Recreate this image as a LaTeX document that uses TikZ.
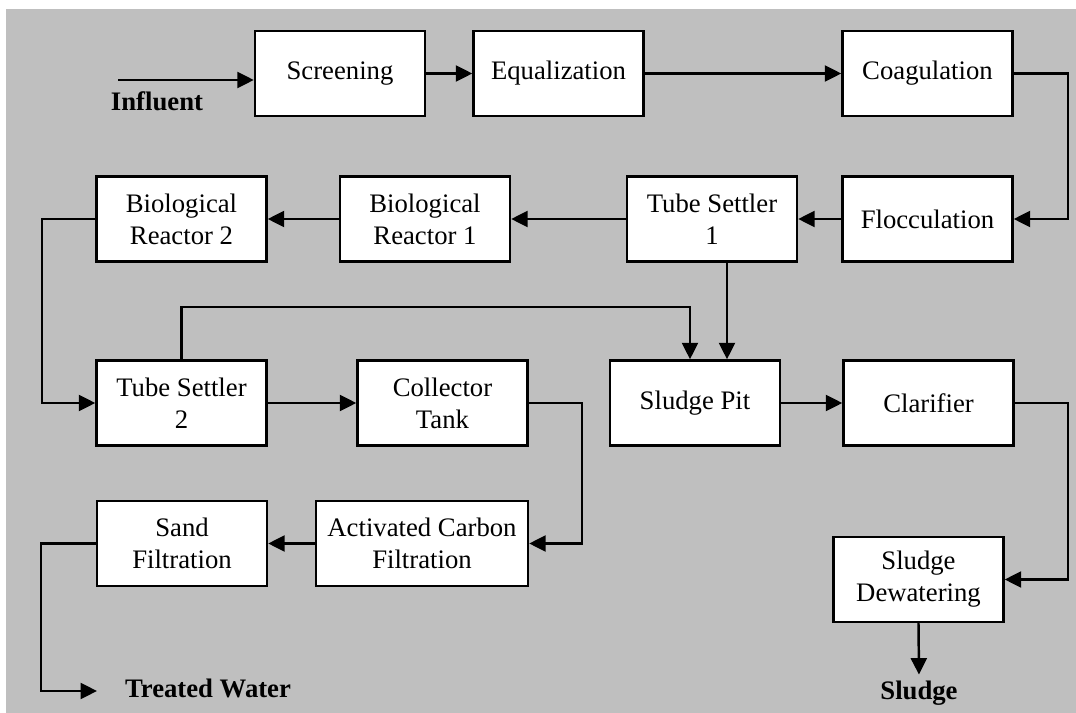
\documentclass[tikz,border=0pt]{standalone}
\usepackage{fontspec}
\setmainfont{Liberation Serif}
\usetikzlibrary{arrows.meta,positioning,calc}
\definecolor{panelgray}{RGB}{191,191,191}

\begin{document}
\begin{tikzpicture}[x=0.02cm, y=-0.02cm,
    box/.style={draw, rectangle, fill=white, line width=1.4pt, minimum width=3.4cm, minimum height=1.7cm, align=center, font=\fontsize{15.2}{18.2}\selectfont},
    lbl/.style={font=\fontsize{15.2}{18.2}\selectfont\bfseries},
    arrow/.style={-{Triangle[length=0.33cm,width=0.32cm]}, line width=1.4pt}
]
% Background
\useasboundingbox (0,0) rectangle (1076,713);
\fill[panelgray] (6,9) rectangle (1076,713);

% Top row
\node[box] (screen) at (340,73.5) {Screening};
\node[box] (equal) at (558.5,73.5) {Equalization};
\node[box] (coag) at (927.5,73.5) {Coagulation};

% Second row
\node[box] (floc) at (927.5,219) {Flocculation};
\node[box] (ts1) at (712,219) {Tube Settler\\1};
\node[box] (br1) at (425,219) {Biological\\Reactor 1};
\node[box] (br2) at (181.5,219) {Biological\\Reactor 2};

% Third row
\node[box] (ts2) at (181.5,403) {Tube Settler\\2};
\node[box] (coll) at (442.5,403) {Collector\\Tank};
\node[box] (pit) at (695,403) {Sludge Pit};
\node[box] (clar) at (928.5,403) {Clarifier};

% Bottom row
\node[box] (sand) at (182,543.5) {Sand\\Filtration};
\node[box, minimum width=4.24cm] (acf) at (422,543.5) {Activated Carbon\\Filtration};
\node[box] (dew) at (918.5,579.5) {Sludge\\Dewatering};

% Labels
\node[lbl] (influent) at (157,101) {Influent};
\node[lbl] (treated) at (208,688) {Treated Water};
\node[lbl] (sludge) at (919,693) {Sludge};
\coordinate (inlet) at (118,80);
\coordinate (outlet) at (97,691);

% Arrows
\draw[arrow] (inlet) -- (inlet -| screen.west);
\draw[arrow] (screen) -- (equal);
\draw[arrow] (equal) -- (coag);
\draw[arrow] (coag.east) -- (1068,73.5) |- (floc.east);
\draw[arrow] (floc) -- (ts1);
\draw[arrow] (ts1) -- (br1);
\draw[arrow] (br1) -- (br2);
\draw[arrow] (br2.west) -- (42,219) |- (ts2.west);
\draw[arrow] (ts2) -- (coll);
\draw[arrow] (ts2.north) -- (181.5,307) -| ($(pit.north)+(-5,0)$);
\draw[arrow] ($(ts1.south)+(15,0)$) -- ($(pit.north)+(32,0)$);
\draw[arrow] (pit) -- (clar);
\draw[arrow] (clar.east) -- (1068,403) |- (dew.east);
\draw[arrow] (dew.south) -- (sludge.north);
\draw[arrow] (coll.east) -- (582,403) |- (acf.east);
\draw[arrow] (acf) -- (sand);
\draw[arrow] (sand.west) -- ++(-55,0) |- (outlet);
\end{tikzpicture}
\end{document}
